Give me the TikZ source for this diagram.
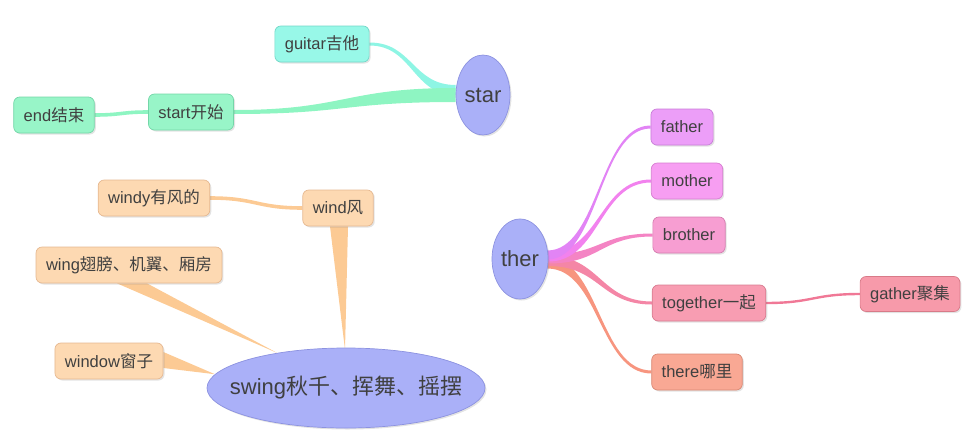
\documentclass[tikz,border=0pt]{standalone}
\usepackage{fontspec}
\setmainfont{Liberation Sans}
\newfontfamily\cjk{Noto Sans CJK SC}
\usetikzlibrary{calc,shapes.geometric,shadows,backgrounds}
\definecolor{txt}{HTML}{404040}
\definecolor{gfill}{HTML}{98F5C8}\definecolor{gdraw}{HTML}{74D6A8}\definecolor{gcon}{HTML}{8EF5C2}
\definecolor{cfill}{HTML}{98F8E8}\definecolor{cdraw}{HTML}{72D8C8}\definecolor{ccon}{HTML}{8EF5E4}
\definecolor{efill}{HTML}{AAB0F8}\definecolor{edraw}{HTML}{8C92E0}
\definecolor{ofill}{HTML}{FDD9B2}\definecolor{odraw}{HTML}{E6B890}\definecolor{ocon}{HTML}{FCCA94}
\definecolor{fafill}{HTML}{EC9EF8}\definecolor{fadraw}{HTML}{C87CD8}\definecolor{facon}{HTML}{E284F5}
\definecolor{mofill}{HTML}{F79EF2}\definecolor{modraw}{HTML}{D67CD0}\definecolor{mocon}{HTML}{F282EE}
\definecolor{brfill}{HTML}{F79ED2}\definecolor{brdraw}{HTML}{D67CB0}\definecolor{brcon}{HTML}{F484C4}
\definecolor{tofill}{HTML}{F89DB2}\definecolor{todraw}{HTML}{D87C90}\definecolor{tocon}{HTML}{F486A6}
\definecolor{gafill}{HTML}{F79AAA}\definecolor{gadraw}{HTML}{D87A88}\definecolor{gacon}{HTML}{F07896}
\definecolor{thfill}{HTML}{F9A894}\definecolor{thdraw}{HTML}{D88874}\definecolor{thcon}{HTML}{F7957F}
\tikzset{
  box/.style={rounded corners=6pt, minimum height=36pt, inner xsep=10pt, inner ysep=0pt,
    font=\fontsize{16.5}{18}\selectfont, text=txt, line width=0.7pt,
    drop shadow={opacity=0.22, shadow xshift=1.5pt, shadow yshift=-1.5pt}},
  ell/.style={ellipse, inner xsep=-30pt, inner ysep=-10pt, fill=efill, draw=edraw, line width=0.7pt,
    font=\fontsize{22}{24}\selectfont, text=txt,
    drop shadow={opacity=0.22, shadow xshift=1.5pt, shadow yshift=-1.5pt}},
}
\newcommand{\branch}[5]{%
  \fill[#5] let \p1=(#1), \p2=(#2) in
    (\x1,\y1+#3) .. controls (\x1/2+\x2/2,\y1+#3) and (\x1/2+\x2/2,\y2+#4) .. (\x2,\y2+#4)
    -- (\x2,\y2-#4) .. controls (\x1/2+\x2/2,\y2-#4) and (\x1/2+\x2/2,\y1-#3) .. (\x1,\y1-#3) -- cycle;}
\begin{document}
\begin{tikzpicture}[x=1pt,y=-1pt]
\useasboundingbox (0,0) rectangle (973,447);
% star group
\node[ell, minimum width=54, minimum height=80] (star) at (483,95) {star};
\node[box, fill=cfill, draw=cdraw] (guitar) at (322,44) {guitar{\cjk 吉他}};
\node[box, fill=gfill, draw=gdraw] (start) at (191,112) {start{\cjk 开始}};
\node[box, fill=gfill, draw=gdraw] (endn) at (54,115) {end{\cjk 结束}};
% swing group
\node[ell, minimum width=278, minimum height=80] (swing) at (346,388) {swing{\cjk 秋千、挥舞、摇摆}};
\node[box, fill=ofill, draw=odraw] (wind) at (338,208) {wind{\cjk 风}};
\node[box, fill=ofill, draw=odraw] (windy) at (154,198) {windy{\cjk 有风的}};
\node[box, fill=ofill, draw=odraw] (wing) at (129,265) {wing{\cjk 翅膀、机翼、厢房}};
\node[box, fill=ofill, draw=odraw] (window) at (109,361) {window{\cjk 窗子}};
% ther group
\node[ell, minimum width=56, minimum height=80] (ther) at (520,259) {ther};
\node[box, fill=fafill, draw=fadraw] (father) at (682,127) {father};
\node[box, fill=mofill, draw=modraw] (mother) at (687,181) {mother};
\node[box, fill=brfill, draw=brdraw] (brother) at (689,235) {brother};
\node[box, fill=tofill, draw=todraw] (together) at (709,303) {together{\cjk 一起}};
\node[box, fill=gafill, draw=gadraw, minimum height=35pt] (gather) at (910,294) {gather{\cjk 聚集}};
\node[box, fill=thfill, draw=thdraw] (there) at (697,372) {there{\cjk 哪里}};
% connectors
\coordinate (sg) at ($(star.west)+(0,-5)$);
\coordinate (t1) at ($(ther.east)+(-1,-4)$);
\coordinate (t2) at ($(ther.east)+(0,-2)$);
\coordinate (t3) at ($(ther.east)+(0,0)$);
\coordinate (t4) at ($(ther.east)+(0,2)$);
\coordinate (t5) at ($(ther.east)+(-1,4)$);
\begin{scope}[on background layer]
  \branch{sg}{guitar.east}{5pt}{1.5pt}{ccon}
  \branch{star.west}{start.east}{7pt}{2pt}{gcon}
  \branch{start.west}{endn.east}{1.8pt}{1.8pt}{gcon}
  \branch{wind.west}{windy.east}{1.8pt}{1.8pt}{ocon}
  \fill[ocon] ($(wind.south)+(-8,0)$) -- ($(wind.south)+(10,0)$) -- ($(swing.north)+(-1,2)$) -- cycle;
  \fill[ocon] ($(wing.south)+(-12,0)$) -- ($(wing.south)+(18,0)$) -- (swing.153) -- cycle;
  \fill[ocon] ($(window.east)+(0,-9)$) -- ($(window.east)+(0,7)$) -- (swing.174) -- cycle;
  \branch{t5}{there.west}{5.5pt}{1.5pt}{thcon}
  \branch{t4}{together.west}{5pt}{1.5pt}{tocon}
  \branch{t3}{brother.west}{4.5pt}{1.5pt}{brcon}
  \branch{t2}{mother.west}{4.5pt}{1.5pt}{mocon}
  \branch{t1}{father.west}{4.5pt}{1.5pt}{facon}
  \branch{together.east}{gather.west}{1.2pt}{1.2pt}{gacon}
\end{scope}
\end{tikzpicture}
\end{document}
